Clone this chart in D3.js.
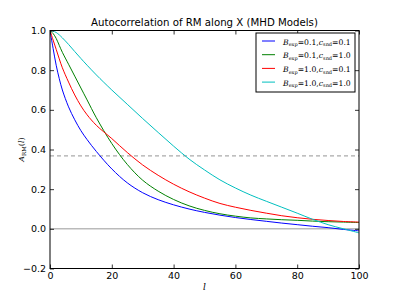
<!DOCTYPE html>
<html lang="en">
<head>
    <meta charset="UTF-8">
    <title>Autocorrelation of RM</title>
    <style>
        html, body { margin: 0; padding: 0; background: #fff; }
        svg { display: block; }
    </style>
</head>
<body>
<svg id="chart"></svg>
<script src="https://cdnjs.cloudflare.com/ajax/libs/d3/7.8.5/d3.min.js"></script>
<script>
    "use strict"

    // lag values (l) shared by all series
    const lags = [0, 1, 2, 3, 4, 6, 8, 10, 12, 15, 20, 25, 30, 35, 40, 45, 50, 55, 60, 65, 70, 75, 80, 85, 90, 95, 100];

    const blueVals = [1, 0.91, 0.825, 0.757, 0.70, 0.615, 0.55, 0.495, 0.45, 0.39, 0.302, 0.232, 0.182, 0.147, 0.121, 0.10, 0.083, 0.069, 0.057, 0.047, 0.038, 0.029, 0.021, 0.013, 0.006, -0.003, -0.01];
    const greenVals = [1, 0.985, 0.96, 0.925, 0.89, 0.83, 0.77, 0.71, 0.65, 0.56, 0.43, 0.325, 0.245, 0.19, 0.148, 0.116, 0.093, 0.076, 0.064, 0.055, 0.05, 0.046, 0.043, 0.039, 0.036, 0.034, 0.032];
    const redVals = [1, 0.952, 0.905, 0.857, 0.812, 0.74, 0.675, 0.62, 0.575, 0.522, 0.455, 0.385, 0.322, 0.27, 0.225, 0.187, 0.155, 0.128, 0.109, 0.093, 0.079, 0.066, 0.056, 0.048, 0.042, 0.037, 0.034];
    const cyanVals = [1, 0.997, 0.99, 0.978, 0.963, 0.93, 0.894, 0.859, 0.825, 0.776, 0.70, 0.628, 0.556, 0.486, 0.417, 0.352, 0.297, 0.247, 0.206, 0.17, 0.139, 0.109, 0.079, 0.048, 0.021, 0.0, -0.02];

    const bExp = ["0.1", "0.1", "1.0", "1.0"];
    const cSnd = ["0.1", "1.0", "0.1", "1.0"];
    const colors = ["#0000ff", "#008000", "#ff0000", "#00bfbf"];

    const xTicks = [0, 20, 40, 60, 80, 100];
    const yTicks = [-0.2, 0.0, 0.2, 0.4, 0.6, 0.8, 1.0];
    const eFold = 1 / Math.E;

    const W = 399, H = 299;
    const margin = {left: 50, right: 40, top: 30.5, bottom: 30.5};

    const svg = d3.select("#chart").attr("width", W).attr("height", H);

    const x = d3.scaleLinear().domain([0, 100]).range([margin.left, W - margin.right]);
    const y = d3.scaleLinear().domain([-0.2, 1.0]).range([H - margin.bottom, margin.top]);

    const series = [blueVals, greenVals, redVals, cyanVals];

    svg.append("clipPath").attr("id", "plotclip").append("rect")
        .attr("x", x(0)).attr("y", y(1.0))
        .attr("width", x(100) - x(0)).attr("height", y(-0.2) - y(1.0));

    const plot = svg.append("g").attr("clip-path", "url(#plotclip)");

    // reference lines
    plot.append("line")
        .attr("x1", x(0)).attr("x2", x(100))
        .attr("y1", y(0)).attr("y2", y(0))
        .attr("stroke", "#999").attr("stroke-width", 1);

    plot.append("line")
        .attr("x1", x(0)).attr("x2", x(100))
        .attr("y1", y(eFold)).attr("y2", y(eFold))
        .attr("stroke", "#aaa").attr("stroke-width", 1.3)
        .attr("stroke-dasharray", "4,3");

    const line = d3.line()
        .x((d, i) => x(lags[i]))
        .y(d => y(d))
        .curve(d3.curveCatmullRom.alpha(0.5));

    series.forEach((vals, k) => {
        plot.append("path")
            .attr("d", line(vals))
            .attr("fill", "none")
            .attr("stroke", colors[k])
            .attr("stroke-width", 1);
    });

    // axes, ticks inward on all sides
    const tickLen = 4;
    svg.append("g").attr("transform", `translate(0,${y(-0.2)})`)
        .call(d3.axisBottom(x).tickValues(xTicks).tickSizeInner(-tickLen).tickSizeOuter(0).tickPadding(4).tickFormat(d3.format("d")));
    svg.append("g").attr("transform", `translate(0,${y(1.0)})`)
        .call(d3.axisTop(x).tickValues(xTicks).tickSizeInner(-tickLen).tickSizeOuter(0).tickFormat(""));
    svg.append("g").attr("transform", `translate(${x(0)},0)`)
        .call(d3.axisLeft(y).tickValues(yTicks).tickSizeInner(-tickLen).tickSizeOuter(0).tickPadding(4)
            .tickFormat(d => d3.format(".1f")(d).replace("-", "\u2212")));
    svg.append("g").attr("transform", `translate(${x(100)},0)`)
        .call(d3.axisRight(y).tickValues(yTicks).tickSizeInner(-tickLen).tickSizeOuter(0).tickFormat(""));

    svg.selectAll(".domain").remove();
    svg.selectAll(".tick line").attr("stroke", "#000").attr("stroke-width", 0.8);
    svg.selectAll(".tick text")
        .attr("font-family", "DejaVu Sans")
        .attr("font-size", 9.5)
        .attr("fill", "#000");

    svg.append("rect")
        .attr("x", x(0)).attr("y", y(1.0))
        .attr("width", x(100) - x(0)).attr("height", y(-0.2) - y(1.0))
        .attr("fill", "none").attr("stroke", "#000").attr("stroke-width", 1);

    // title and axis labels
    svg.append("text")
        .attr("x", (x(0) + x(100)) / 2).attr("y", 26)
        .attr("text-anchor", "middle")
        .attr("font-family", "DejaVu Sans").attr("font-size", 10.2)
        .text("Autocorrelation of RM along X (MHD Models)");

    svg.append("text")
        .attr("x", (x(0) + x(100)) / 2).attr("y", 290)
        .attr("text-anchor", "middle")
        .attr("font-family", "DejaVu Serif").attr("font-style", "italic").attr("font-size", 9)
        .text("l");

    const yl = svg.append("text")
        .attr("transform", `translate(24,${(y(1) + y(-0.2)) / 2}) rotate(-90)`)
        .attr("text-anchor", "middle")
        .attr("font-family", "DejaVu Serif").attr("font-size", 8);
    yl.append("tspan").attr("font-style", "italic").text("A");
    yl.append("tspan").attr("font-size", 5.5).attr("dy", 2).text("RM");
    yl.append("tspan").attr("dy", -2).text("(");
    yl.append("tspan").attr("font-style", "italic").text("l");
    yl.append("tspan").text(")");

    // legend
    const lg = svg.append("g").attr("transform", "translate(256,33)");
    lg.append("rect").attr("width", 99).attr("height", 59)
        .attr("fill", "#fff").attr("stroke", "#000").attr("stroke-width", 1);
    colors.forEach((c, k) => {
        const yy = 8 + k * 13.7;
        lg.append("line").attr("x1", 6).attr("x2", 19).attr("y1", yy).attr("y2", yy)
            .attr("stroke", c).attr("stroke-width", 1);
        const t = lg.append("text").attr("x", 27).attr("y", yy + 3.5)
            .attr("font-family", "DejaVu Serif").attr("font-size", 7.7);
        t.append("tspan").attr("font-style", "italic").text("B");
        t.append("tspan").attr("font-size", 5).attr("dy", 1.8).text("exp");
        t.append("tspan").attr("dy", -1.8).text("=" + bExp[k] + ",");
        t.append("tspan").attr("font-style", "italic").text("c");
        t.append("tspan").attr("font-size", 5).attr("dy", 1.8).text("snd");
        t.append("tspan").attr("dy", -1.8).text("=" + cSnd[k]);
    });
</script>
</body>
</html>
